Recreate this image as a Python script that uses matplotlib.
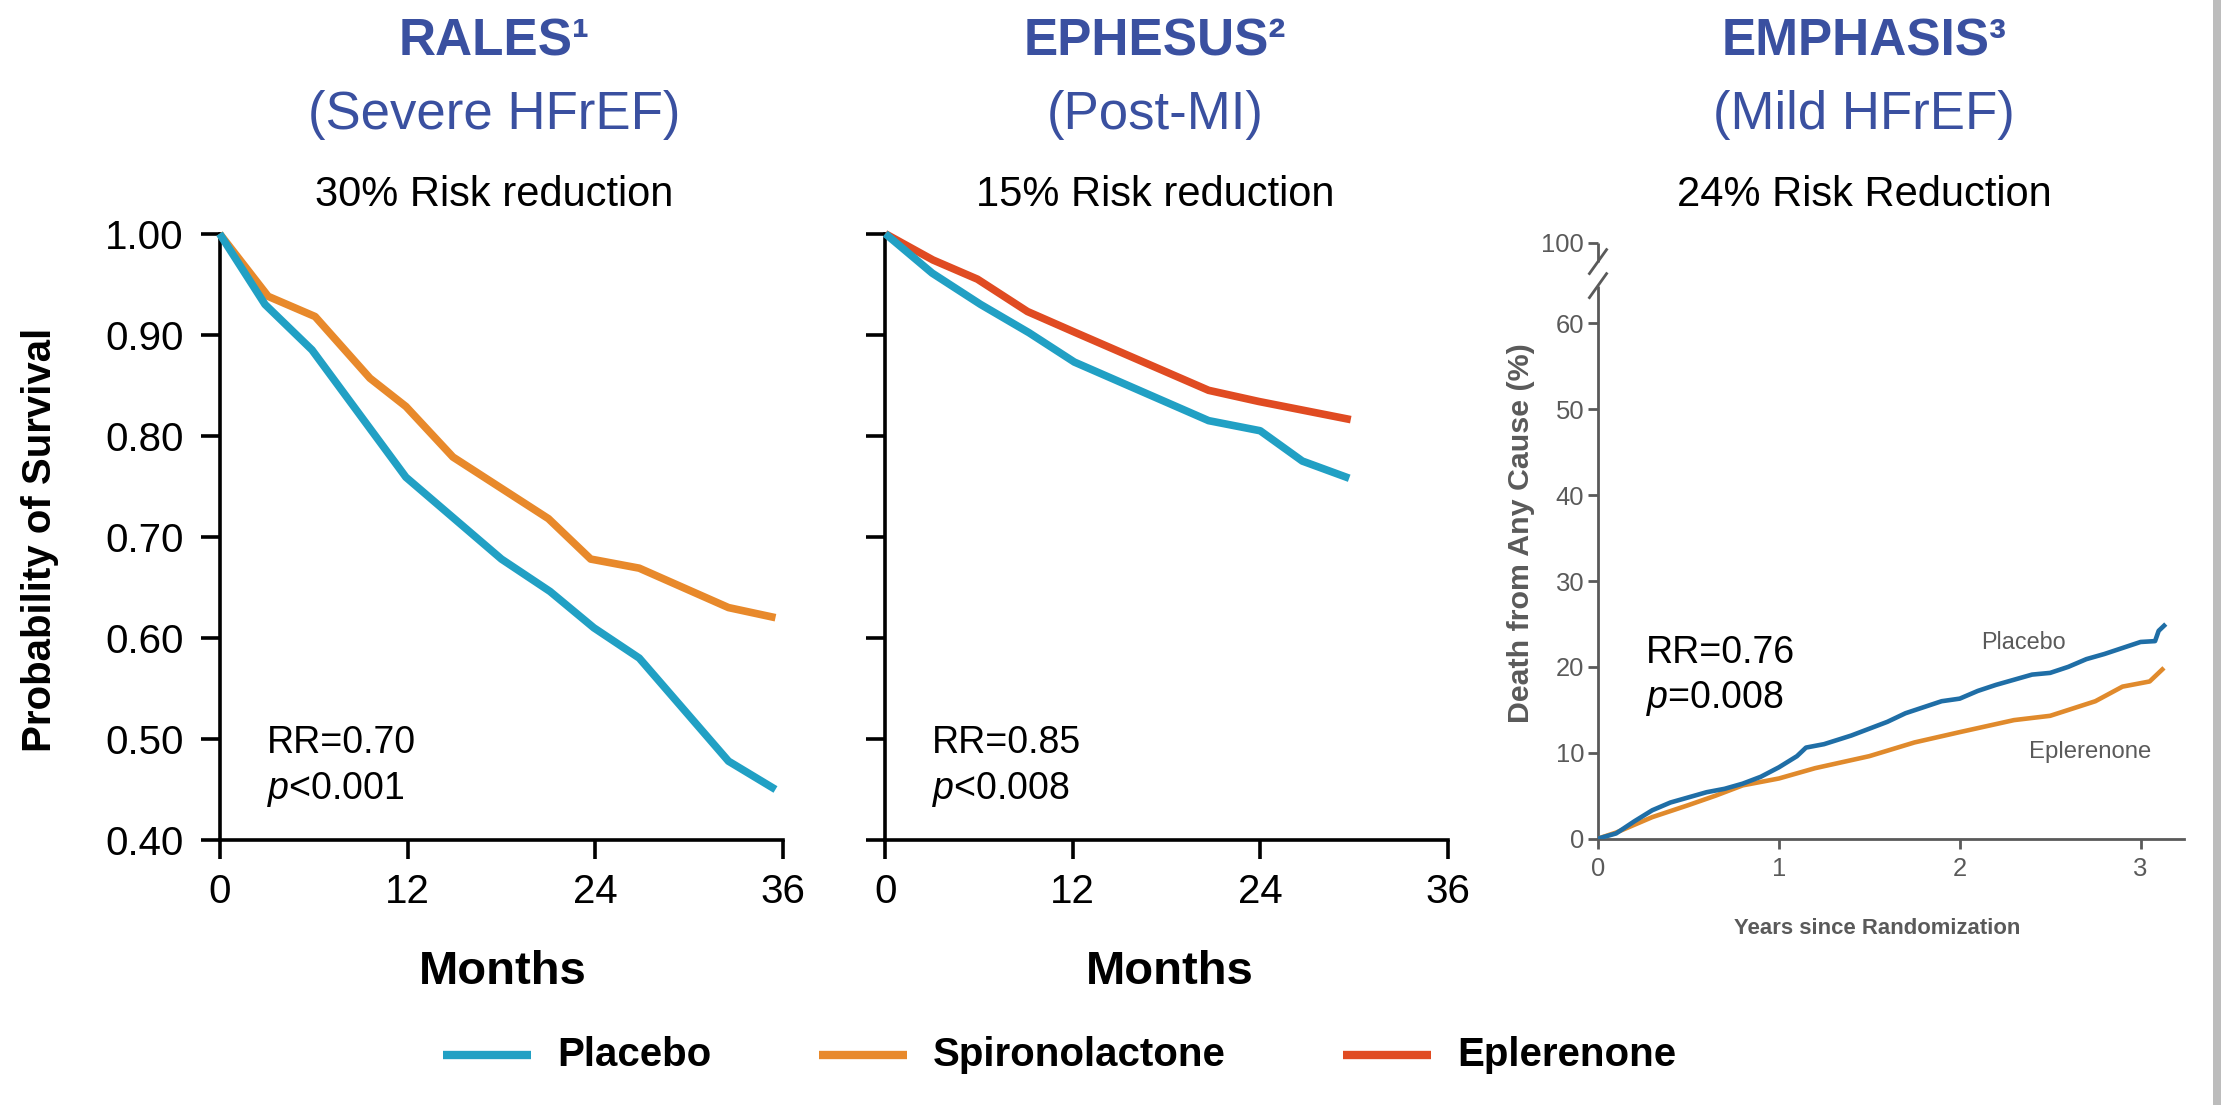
import matplotlib
matplotlib.use("Agg")
import matplotlib.pyplot as plt
from matplotlib import font_manager
from matplotlib.lines import Line2D
from matplotlib.patches import Rectangle

# ---------------------------------------------------------------
#  datos
# ---------------------------------------------------------------
trials = ["RALES¹", "EPHESUS²", "EMPHASIS³"]
populations = ["(Severe HFrEF)", "(Post-MI)", "(Mild HFrEF)"]
risk_text = ["30% Risk reduction", "15% Risk reduction", "24% Risk Reduction"]
rr_text = [("RR=0.70", "$p$<0.001"), ("RR=0.85", "$p$<0.008"), ("RR=0.76", "$p$=0.008")]

# RALES (meses, probabilidad de sobrevida)
rales_m_placebo = [0, 2.9, 5.9, 11.9, 18.0, 21.1, 23.9, 26.8, 32.5, 35.5]
rales_placebo = [1.00, 0.930, 0.885, 0.759, 0.678, 0.646, 0.610, 0.580, 0.478, 0.450]
rales_m_spiro = [0, 3.1, 6.1, 9.6, 11.9, 14.9, 21.0, 23.7, 26.8, 32.5, 35.5]
rales_spiro = [1.00, 0.938, 0.918, 0.857, 0.829, 0.779, 0.718, 0.678, 0.669, 0.630, 0.620]

# EPHESUS
ephesus_m_placebo = [0, 3.0, 6.1, 9.2, 12.1, 20.7, 24.0, 26.7, 29.7]
ephesus_placebo = [1.00, 0.961, 0.930, 0.902, 0.873, 0.815, 0.805, 0.775, 0.758]
ephesus_m_eple = [0, 3.05, 5.9, 9.1, 12.2, 20.7, 23.9, 29.8]
ephesus_eple = [1.00, 0.974, 0.955, 0.923, 0.902, 0.845, 0.834, 0.816]

# EMPHASIS (anios, muerte por cualquier causa %)
emph_y_placebo = [0, 0.1, 0.2, 0.3, 0.4, 0.5, 0.6, 0.7, 0.8, 0.9, 1.0, 1.1, 1.15,
                  1.25, 1.4, 1.5, 1.6, 1.7, 1.8, 1.9, 2.0, 2.1, 2.2, 2.3, 2.4, 2.5,
                  2.6, 2.7, 2.8, 2.9, 3.0, 3.08, 3.1, 3.13]
emph_placebo = [0, 0.6, 2.0, 3.3, 4.2, 4.8, 5.4, 5.8, 6.4, 7.2, 8.3, 9.6, 10.6,
                11.0, 12.0, 12.8, 13.6, 14.6, 15.3, 16.0, 16.3, 17.2, 17.9, 18.5, 19.1, 19.3,
                20.0, 20.9, 21.5, 22.2, 22.9, 23.0, 24.2, 24.8]
emph_y_eple = [0, 0.1, 0.2, 0.3, 0.5, 0.65, 0.8, 1.0, 1.2, 1.5, 1.75, 2.0, 2.3,
               2.5, 2.75, 2.9, 3.05, 3.12]
emph_eple = [0, 0.7, 1.6, 2.5, 3.9, 5.0, 6.2, 7.0, 8.2, 9.6, 11.2, 12.4, 13.8,
             14.3, 16.0, 17.7, 18.3, 19.7]

legend_names = ["Placebo", "Spironolactone", "Eplerenone"]

C_PLACEBO = "#21a0c4"
C_SPIRO = "#e8892b"
C_EPLE = "#e04b22"
C_TITLE = "#3a50a0"
C_NEJM_BLUE = "#1f6ea6"
C_NEJM_ORANGE = "#e08a2c"
C_GRAY = "#5a5a5a"

names = {f.name for f in font_manager.fontManager.ttflist}
MAIN = "Liberation Sans" if "Liberation Sans" in names else "DejaVu Sans"
NARROW = "Liberation Sans Narrow" if "Liberation Sans Narrow" in names else MAIN
nscale = 1.0 if NARROW != MAIN else 0.84

plt.rcParams["font.family"] = [MAIN, "DejaVu Sans"]
plt.rcParams["mathtext.fontset"] = "custom"
plt.rcParams["mathtext.rm"] = MAIN
plt.rcParams["mathtext.it"] = MAIN + ":italic"

W, H = 2221, 1105
fig = plt.figure(figsize=(W / 100, H / 100), dpi=100)


def ejes_px(x0, x1, ytop, ybot):
    return fig.add_axes([x0 / W, 1 - ybot / H, (x1 - x0) / W, (ybot - ytop) / H])


def texto_px(x, y, s, **kw):
    return fig.text(x / W, 1 - y / H, s, **kw)


ax1 = ejes_px(219.6, 783.3, 233.7, 840)
ax2 = ejes_px(885.3, 1447.6, 233.7, 840)
ax3 = ejes_px(1598, 2184, 242.7, 838.6)

# --- paneles de sobrevida (RALES, EPHESUS)
for ax in (ax1, ax2):
    ax.set_xlim(0, 36)
    ax.set_ylim(0.40, 1.00)
    ax.set_xticks([0, 12, 24, 36])
    ax.set_yticks([0.40, 0.50, 0.60, 0.70, 0.80, 0.90, 1.00])
    ax.set_yticklabels(["0.40", "0.50", "0.60", "0.70", "0.80", "0.90", "1.00"])
    for s in ("top", "right"):
        ax.spines[s].set_visible(False)
    for s in ("left", "bottom"):
        ax.spines[s].set_linewidth(2.6)
    ax.tick_params(axis="both", direction="out", length=14, width=2.6,
                   labelsize=29, color="black")
    ax.tick_params(axis="x", pad=10)
    ax.tick_params(axis="y", pad=12)
    ax.set_facecolor("none")

ax2.tick_params(axis="y", labelleft=False)

ax1.plot(rales_m_spiro, rales_spiro, color=C_SPIRO, lw=5.5, clip_on=False,
         solid_capstyle="butt", zorder=3)
ax1.plot(rales_m_placebo, rales_placebo, color=C_PLACEBO, lw=5.5, clip_on=False,
         solid_capstyle="butt", zorder=4)
ax2.plot(ephesus_m_eple, ephesus_eple, color=C_EPLE, lw=5.5, clip_on=False,
         solid_capstyle="butt", zorder=3)
ax2.plot(ephesus_m_placebo, ephesus_placebo, color=C_PLACEBO, lw=5.5, clip_on=False,
         solid_capstyle="butt", zorder=4)

for ax, (rr, p) in zip((ax1, ax2), rr_text[:2]):
    ax.text(3.0, 0.486, rr, fontsize=27, va="baseline", ha="left")
    ax.text(3.0, 0.441, p, fontsize=27, va="baseline", ha="left")

texto_px(40, 540, "Probability of Survival", rotation=90, fontsize=29,
         fontweight="bold", ha="center", va="center")
for xc in (503, 1170):
    texto_px(xc, 972, "Months", fontsize=34, fontweight="bold", ha="center", va="center")

# --- panel EMPHASIS (estilo NEJM)
ax3.set_xlim(0, 3.24)
ax3.set_ylim(0, 69.4)
ax3.set_xticks([0, 1, 2, 3])
ax3.set_yticks([0, 10, 20, 30, 40, 50, 60, 69.4])
ax3.set_yticklabels(["0", "10", "20", "30", "40", "50", "60", "100"])
for s in ("top", "right", "left"):
    ax3.spines[s].set_visible(False)
ax3.spines["bottom"].set_color(C_GRAY)
ax3.spines["bottom"].set_linewidth(2.0)
ax3.tick_params(axis="both", direction="out", length=7, width=2.0, color=C_GRAY,
                labelcolor=C_GRAY, labelsize=22 * nscale)
for lab in ax3.get_xticklabels() + ax3.get_yticklabels():
    lab.set_family(NARROW)
ax3.tick_params(axis="y", pad=3)
ax3.tick_params(axis="x", pad=6)
ax3.set_facecolor("none")

# eje y con corte
gris = dict(color=C_GRAY, lw=2.0, clip_on=False, solid_capstyle="butt")
ax3.plot([0, 0], [0, 64.4], **gris)
ax3.plot([0, 0], [67.2, 69.4], **gris)
for yb in (64.4, 67.2):
    yf = yb / 69.4
    ax3.plot([-0.016, 0.016], [yf - 0.022, yf + 0.022], transform=ax3.transAxes, **gris)

ax3.plot(emph_y_eple, emph_eple, color=C_NEJM_ORANGE, lw=3.3, zorder=3)
ax3.plot(emph_y_placebo, emph_placebo, color=C_NEJM_BLUE, lw=3.3, zorder=4)
ax3.text(2.35, 22.8, "Placebo", color=C_GRAY, fontsize=20 * nscale,
         family=NARROW, ha="center", va="center")
ax3.text(2.72, 10.1, "Eplerenone", color=C_GRAY, fontsize=20.5 * nscale,
         family=NARROW, ha="center", va="center")
ax3.text(0.265, 20.5, rr_text[2][0], fontsize=27, va="baseline", ha="left")
ax3.text(0.265, 15.2, rr_text[2][1], fontsize=27, va="baseline", ha="left")

texto_px(1877, 928, "Years since Randomization", color=C_GRAY, fontsize=19 * nscale,
         fontweight="bold", family=NARROW, ha="center", va="center")
texto_px(1521, 533, "Death from Any Cause (%)", color=C_GRAY, fontsize=26 * nscale,
         fontweight="bold", family=NARROW, rotation=90, ha="center", va="center")

# --- titulos
for xc, t, pop, rk in zip((494, 1155, 1864), trials, populations, risk_text):
    texto_px(xc, 55, t, fontsize=37, fontweight="bold", color=C_TITLE,
             ha="center", va="baseline")
    texto_px(xc, 129, pop, fontsize=38, color=C_TITLE, ha="center", va="baseline")
    texto_px(xc, 206, rk, fontsize=30, color="black", ha="center", va="baseline")

# --- leyenda
leg_colors = [C_PLACEBO, C_SPIRO, C_EPLE]
leg_x = [443, 819, 1343]
for x0, col, name in zip(leg_x, leg_colors, legend_names):
    fig.add_artist(Line2D([x0 / W, (x0 + 88) / W], [1 - 1055 / H, 1 - 1055 / H],
                          color=col, lw=6, solid_capstyle="butt"))
    texto_px(x0 + 114, 1055, name, fontsize=29, fontweight="bold",
             ha="left", va="center")

# sombra del borde derecho
fig.add_artist(Rectangle((2213 / W, 0), 8 / W, 1, transform=fig.transFigure,
                         color="#bcbcbc", lw=0))

fig.savefig("out.png", dpi=100)
